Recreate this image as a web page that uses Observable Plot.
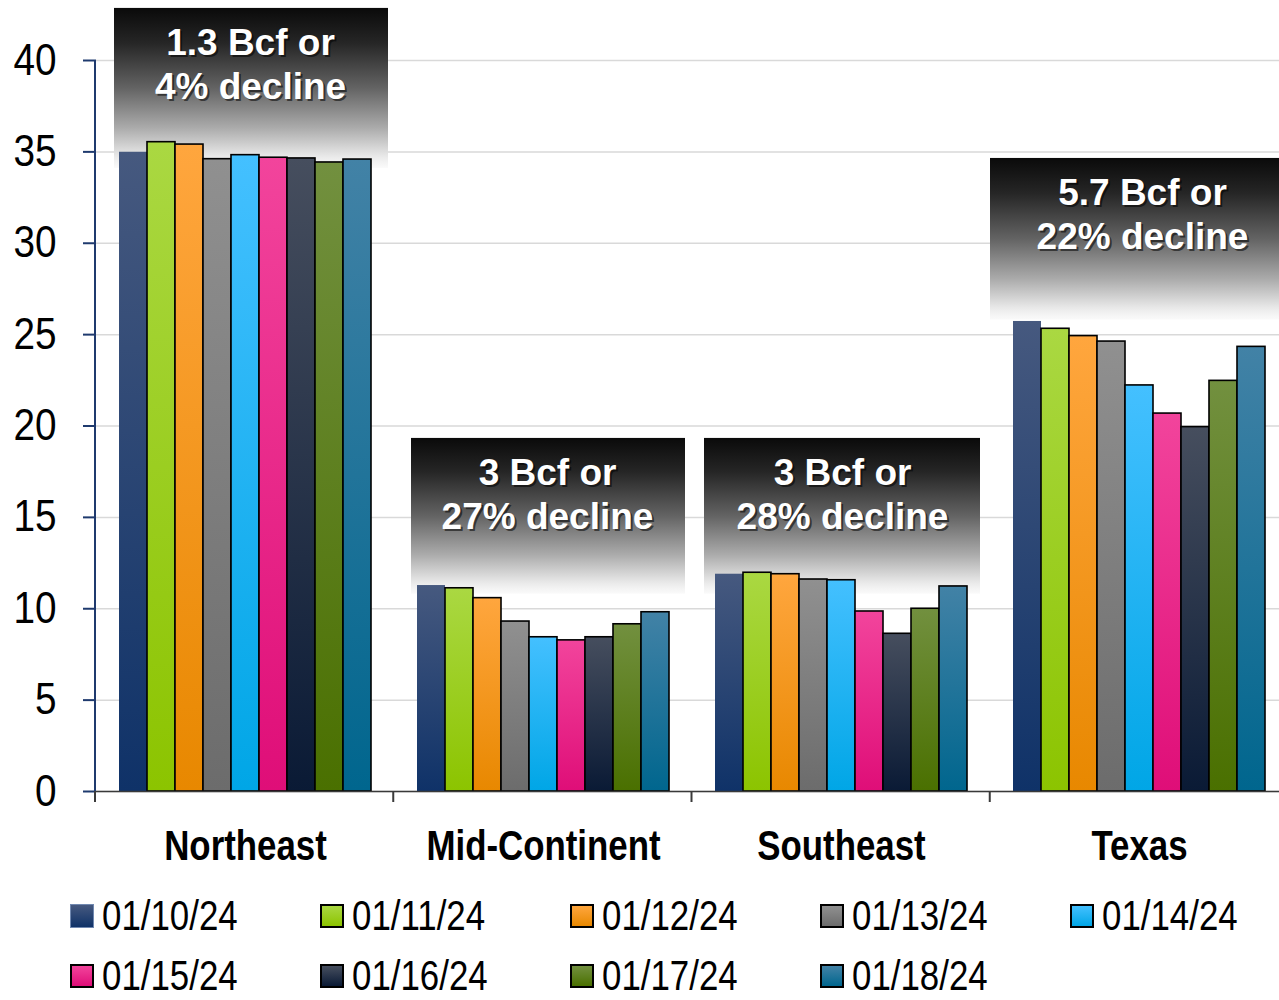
<!DOCTYPE html>
<html>
<head>
<meta charset="utf-8">
<script src="https://cdn.jsdelivr.net/npm/d3@7"></script>
<script src="https://cdn.jsdelivr.net/npm/@observablehq/plot@0.6"></script>
<style>
  html, body { margin: 0; padding: 0; background: #fff; overflow: hidden; }
  #chart svg { display: block; }
  .legend {
    display: grid;
    grid-template-columns: repeat(5, 250px);
    grid-auto-rows: 60px;
    margin-left: 70px;
    padding-top: 6px;
    font-family: "Liberation Sans", Arial, sans-serif;
    font-size: 42px;
    line-height: 0.9;
    color: #000;
  }
  .legend .item { display: flex; align-items: center; white-space: nowrap; }
  .legend .sw { width: 20px; height: 20px; border: 2px solid #000; margin-right: 8px; box-sizing: content-box; flex: none; }
  .legend .lbl { display: inline-block; transform: scaleX(0.83); transform-origin: left center; }
</style>
</head>
<body>
<div id="chart"></div>
<div id="legend" class="legend"></div>
<script>
// ---- data ----
const regions = ["Northeast", "Mid-Continent", "Southeast", "Texas"];
const dates = ["01/10/24", "01/11/24", "01/12/24", "01/13/24", "01/14/24", "01/15/24", "01/16/24", "01/17/24", "01/18/24"];
const northeast    = [34.98, 35.53, 35.40, 34.60, 34.82, 34.68, 34.64, 34.42, 34.58];
const midContinent = [11.27, 11.12, 10.58, 9.30, 8.44, 8.27, 8.44, 9.15, 9.81];
const southeast    = [11.89, 11.97, 11.89, 11.60, 11.56, 9.85, 8.63, 10.00, 11.22];
const texas        = [25.72, 25.32, 24.92, 24.62, 22.22, 20.68, 19.94, 22.47, 24.33];
const yTicks = [0, 5, 10, 15, 20, 25, 30, 35, 40];
const annotationRegions = ["Northeast", "Mid-Continent", "Southeast", "Texas"];
const annotationTexts = ["1.3 Bcf or\n4% decline", "3 Bcf or\n27% decline", "3 Bcf or\n28% decline", "5.7 Bcf or\n22% decline"];

// ---- styles / layout ----
const seriesColors = [
  ["#46597f", "#0f3268"],
  ["#aad842", "#8cc400"],
  ["#ffa63e", "#e88800"],
  ["#909090", "#6c6c6c"],
  ["#44c0ff", "#00a6e6"],
  ["#f2449c", "#df0e78"],
  ["#464e5e", "#0a1a35"],
  ["#72903f", "#4a7000"],
  ["#4282a6", "#00668e"]
];
// box extents in y units, and pixel insets
const boxLayout = [
  {top: 42.85, bottom: 34.1, insetLeft: 18, insetRight: 6, dx: 5},
  {top: 19.32, bottom: 10.8, insetLeft: 17, insetRight: 7, dx: 4},
  {top: 19.32, bottom: 10.8, insetLeft: 12, insetRight: 10, dx: 1},
  {top: 34.64, bottom: 25.8, insetLeft: 0, insetRight: 0, dx: 3}
];

const values = [northeast, midContinent, southeast, texas];
const data = [];
regions.forEach((r, i) => dates.forEach((d, j) => data.push({region: r, date: d, idx: j, value: values[i][j]})));

const font = '"Liberation Sans", Arial, sans-serif';

const annotMarks = [];
annotationRegions.forEach((r, i) => {
  const L = boxLayout[i];
  const row = [{region: r, text: annotationTexts[i], top: L.top, bottom: L.bottom}];
  annotMarks.push(Plot.rect(row, {fx: "region", y1: "bottom", y2: "top", insetLeft: L.insetLeft, insetRight: L.insetRight, fill: "url(#boxGrad)"}));
});
const textMarks = [];
annotationRegions.forEach((r, i) => {
  const L = boxLayout[i];
  const row = [{region: r, text: annotationTexts[i], top: L.top}];
  textMarks.push(Plot.text(row, {fx: "region", y: "top", text: "text", lineAnchor: "top", dy: 17, dx: L.dx + 2, fill: "#000", fillOpacity: 0.55, fontSize: 37, fontWeight: "bold", fontFamily: font, lineHeight: 1.2}));
  textMarks.push(Plot.text(row, {fx: "region", y: "top", text: "text", lineAnchor: "top", dy: 15, dx: L.dx, fill: "#fff", fontSize: 37, fontWeight: "bold", fontFamily: font, lineHeight: 1.2}));
});

const chart = Plot.plot({
  width: 1279,
  height: 880,
  marginLeft: 95,
  marginRight: -9,
  marginTop: 60,
  marginBottom: 89,
  style: {fontFamily: font, background: "#fff", overflow: "hidden"},
  fx: {domain: regions, padding: 0, axis: null, label: null},
  x: {domain: dates, paddingInner: 0, paddingOuter: 0.76, axis: null},
  y: {domain: [0, 40], axis: null},
  color: {type: "identity"},
  marks: [
    Plot.gridY(yTicks, {stroke: "#d9d9d9", strokeOpacity: 1, strokeWidth: 1.5}),
    ...annotMarks,
    Plot.barY(data, {fx: "region", x: "date", y: "value",
      fill: d => `url(#bar${d.idx})`,
      stroke: d => d.idx === 0 ? "none" : "#000",
      strokeWidth: 1.6}),
    Plot.ruleY([0], {stroke: "#3a3a3a", strokeWidth: 1.5}),
    ...textMarks,
    Plot.axisY(yTicks, {anchor: "left", tickSize: 13, tickPadding: 27, stroke: "#1f3a6e", strokeWidth: 2, fill: "#000", fontSize: 44, fontFamily: font}),
    Plot.axisFx({anchor: "bottom", label: null, tickSize: 0, tickPadding: 39, fill: "#000", fontSize: 42, fontWeight: "bold", fontFamily: font})
  ]
});

// gradient defs
const svg = d3.select(chart);
const defs = svg.insert("defs", ":first-child");
seriesColors.forEach((c, i) => {
  const g = defs.append("linearGradient").attr("id", `bar${i}`).attr("x1", 0).attr("y1", 0).attr("x2", 0).attr("y2", 1);
  g.append("stop").attr("offset", "0%").attr("stop-color", c[0]);
  g.append("stop").attr("offset", "100%").attr("stop-color", c[1]);
});
const bg = defs.append("linearGradient").attr("id", "boxGrad").attr("x1", 0).attr("y1", 0).attr("x2", 0).attr("y2", 1);
[[0, "#0a0a0a", 1], [0.22, "#262626", 1], [0.5, "#636363", 1], [0.75, "#ababab", 1], [0.92, "#e6e6e6", 1], [1, "#f6f6f6", 0.6]]
  .forEach(([o, c, op]) => bg.append("stop").attr("offset", o).attr("stop-color", c).attr("stop-opacity", op));

// axis line and group separators, positioned from the library's scales
const fx = chart.scale("fx");
const y = chart.scale("y");
const y0 = y.apply(0), y40 = y.apply(40);
const x0 = fx.range[0];
const step = (fx.range[1] - fx.range[0]) / fx.domain.length;
const deco = svg.append("g");
deco.append("line").attr("x1", x0).attr("x2", x0).attr("y1", y40).attr("y2", y0).attr("stroke", "#1f3a6e").attr("stroke-width", 2);
fx.domain.forEach((d, i) => {
  const xb = x0 + i * step;
  deco.append("line").attr("x1", xb).attr("x2", xb).attr("y1", y0).attr("y2", y0 + 11).attr("stroke", "#3a3a3a").attr("stroke-width", 2);
});

document.getElementById("chart").appendChild(chart);

// condense axis label text horizontally (no narrow font installed)
const yLabelSet = new Set(yTicks.map(String));
const fxLabelSet = new Set(regions);
svg.selectAll("text").each(function () {
  const s = this.textContent;
  let k = null, anchorRight = false;
  if (yLabelSet.has(s)) { k = 0.88; anchorRight = true; }
  else if (fxLabelSet.has(s)) { k = 0.83; }
  if (k == null) return;
  const b = this.getBBox();
  const ax = anchorRight ? b.x + b.width : b.x + b.width / 2;
  const t = this.getAttribute("transform") || "";
  this.setAttribute("transform", `${t} translate(${ax},0) scale(${k},1) translate(${-ax},0)`.trim());
});

// legend
const legend = document.getElementById("legend");
dates.forEach((d, i) => {
  const it = document.createElement("div");
  it.className = "item";
  const sw = document.createElement("span");
  sw.className = "sw";
  sw.style.background = `linear-gradient(${seriesColors[i][0]}, ${seriesColors[i][1]})`;
  if (i === 0) { sw.style.border = "1px solid #7088b0"; sw.style.width = "22px"; sw.style.height = "22px"; }
  const t = document.createElement("span");
  t.className = "lbl";
  t.textContent = d;
  it.appendChild(sw); it.appendChild(t);
  legend.appendChild(it);
});
</script>
</body>
</html>
